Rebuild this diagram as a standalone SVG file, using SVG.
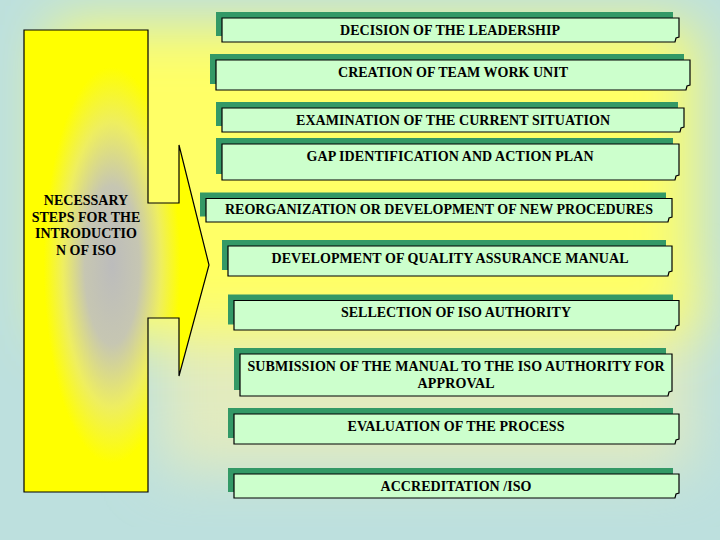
<svg xmlns="http://www.w3.org/2000/svg" width="720" height="540" viewBox="0 0 720 540">
<style>
.sh{fill:#339966}
.fr{fill:#ccffcc;stroke:#000;stroke-width:1.2}
.t{font-family:'Liberation Serif','Times New Roman',serif;font-weight:bold;font-size:14px;fill:#000;text-anchor:middle}
</style>
<defs>
<filter id="blur" x="-30%" y="-30%" width="160%" height="160%"><feGaussianBlur stdDeviation="28"/></filter>
<radialGradient id="ar" gradientUnits="userSpaceOnUse" cx="112" cy="265" r="110" gradientTransform="translate(112 265) scale(0.62 1.8) translate(-112 -265)">
<stop offset="0" stop-color="#bcbcbc"/>
<stop offset="0.4" stop-color="#c6c6b2"/>
<stop offset="0.72" stop-color="#eeee60"/>
<stop offset="1" stop-color="#ffff00"/>
</radialGradient>
</defs>
<g id="background">
<rect width="720" height="540" fill="#bde0de"/>
<rect x="160" y="280" width="530" height="190" fill="#e2ebbf" filter="url(#blur)"/>
<rect x="50" y="25" width="645" height="310" fill="#ffff66" filter="url(#blur)"/>
</g>
<g id="arrow">
<path d="M24,30 H148 V203 H179 V145 L209,265 L179,376 V318 H148 V492 H24 Z" fill="url(#ar)" stroke="#000" stroke-width="1.2"/>
<text class="t" x="86" y="205">NECESSARY</text>
<text class="t" x="86" y="221.7">STEPS FOR THE</text>
<text class="t" x="86" y="238.3">INTRODUCTIO</text>
<text class="t" x="86" y="255">N OF ISO</text>
</g>
<g id="connectors"></g>
<g id="s1">
<rect class="sh" x="216" y="12" width="457" height="24"/>
<path class="fr" d="M222,18 H679 V37 L676,38 L675,42 H222 Z"/>
<text class="t" x="450" y="35" textLength="220">DECISION OF THE LEADERSHIP</text>
</g>
<g id="s2">
<rect class="sh" x="210" y="54" width="474" height="30"/>
<path class="fr" d="M216,60 H690 V85 L687,86 L686,90 H216 Z"/>
<text class="t" x="453" y="77" textLength="230">CREATION OF TEAM WORK UNIT</text>
</g>
<g id="s3">
<rect class="sh" x="216" y="102" width="462" height="24"/>
<path class="fr" d="M222,108 H684 V127 L681,128 L680,132 H222 Z"/>
<text class="t" x="453" y="125" textLength="314">EXAMINATION OF THE CURRENT SITUATION</text>
</g>
<g id="s4">
<rect class="sh" x="216" y="138" width="457" height="36"/>
<path class="fr" d="M222,144 H679 V175 L676,176 L675,180 H222 Z"/>
<text class="t" x="450" y="160.7" textLength="287">GAP IDENTIFICATION AND ACTION PLAN</text>
</g>
<g id="s5">
<rect class="sh" x="200" y="192.5" width="466" height="24"/>
<path class="fr" d="M206,198.5 H672 V217 L669,218 L668,222 H206 Z"/>
<text class="t" x="439" y="214" textLength="428">REORGANIZATION OR DEVELOPMENT OF NEW PROCEDURES</text>
</g>
<g id="s6">
<rect class="sh" x="222" y="240" width="444" height="30"/>
<path class="fr" d="M228,246 H672 V271 L669,272 L668,276 H228 Z"/>
<text class="t" x="450" y="262.7" textLength="357">DEVELOPMENT OF QUALITY ASSURANCE MANUAL</text>
</g>
<g id="s7">
<rect class="sh" x="228" y="294.5" width="445" height="30"/>
<path class="fr" d="M234,300.5 H679 V325 L676,326 L675,330 H234 Z"/>
<text class="t" x="456" y="316.7" textLength="230">SELLECTION OF ISO AUTHORITY</text>
</g>
<g id="s8">
<rect class="sh" x="234" y="348" width="432" height="42"/>
<path class="fr" d="M240,354 H672 V391 L669,392 L668,396 H240 Z"/>
<text class="t" x="456" y="371" textLength="417">SUBMISSION OF THE MANUAL TO THE ISO AUTHORITY FOR</text>
<text class="t" x="456" y="387.7" textLength="77">APPROVAL</text>
</g>
<g id="s9">
<rect class="sh" x="228" y="408" width="445" height="30"/>
<path class="fr" d="M234,414 H679 V439 L676,440 L675,444 H234 Z"/>
<text class="t" x="456" y="430.7" textLength="217">EVALUATION OF THE PROCESS</text>
</g>
<g id="s10">
<rect class="sh" x="228" y="468" width="445" height="24"/>
<path class="fr" d="M234,474 H679 V493 L676,494 L675,498 H234 Z"/>
<text class="t" x="456" y="490.7" textLength="151">ACCREDITATION /ISO</text>
</g>
</svg>
